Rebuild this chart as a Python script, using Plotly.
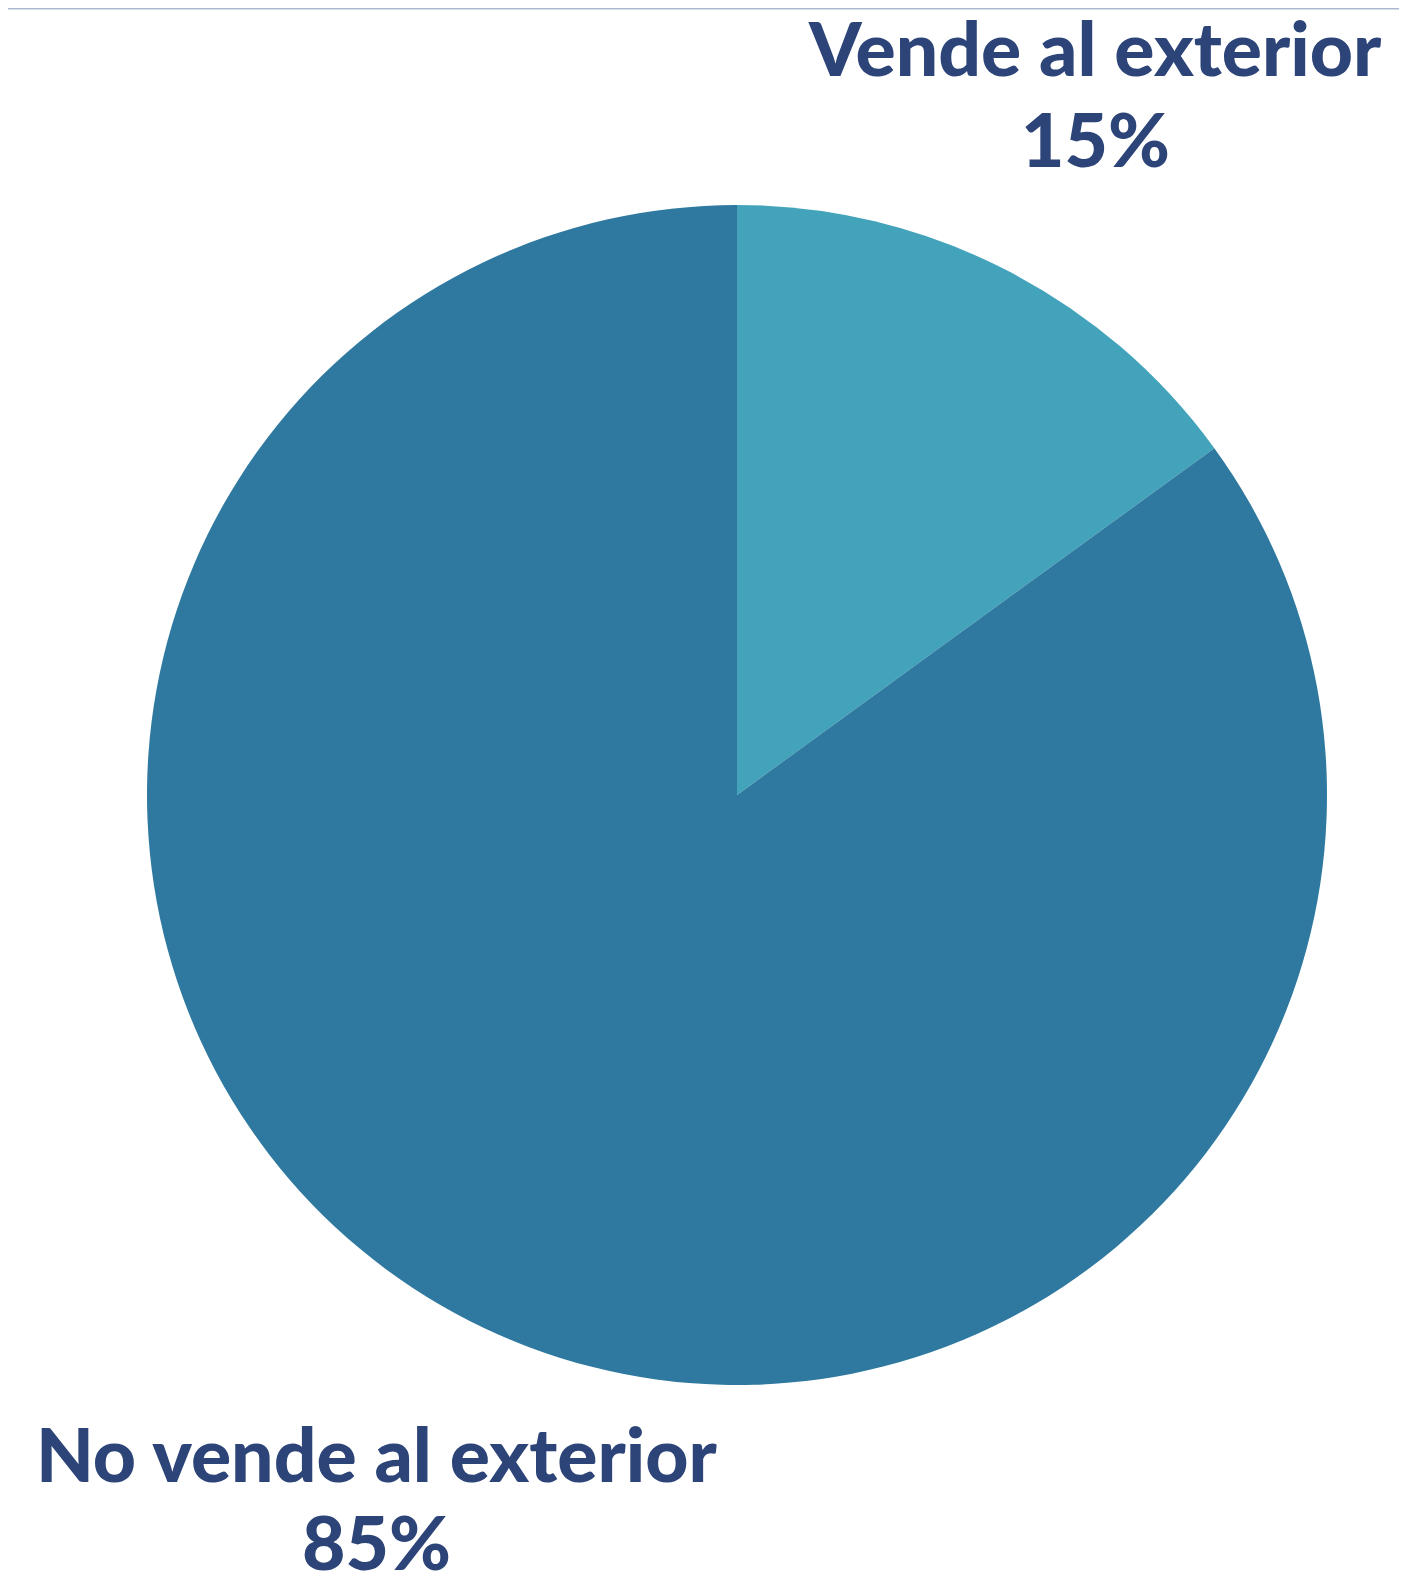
import plotly.graph_objects as go

labels = ["Vende al exterior", "No vende al exterior"]
values = [15, 85]
colors = ["#42a3bb", "#2f79a0"]

W, H = 1407, 1582
OFF = 8  # page body margin offset compensation
text_color = "#2c4478"
font_family = "Lato, 'Open Sans', sans-serif"
fsize = 75

cx_pie, top_pie, bot_pie, rad = 737 - OFF, 205 - OFF, 1385 - OFF, 590

fig = go.Figure(go.Pie(
    labels=labels,
    values=values,
    sort=False,
    direction="clockwise",
    rotation=0,
    marker=dict(colors=colors, line=dict(width=0)),
    textinfo="none",
    hoverinfo="label+percent",
    showlegend=False,
    domain=dict(x=[(cx_pie - rad) / W, (cx_pie + rad) / W],
                y=[(H - bot_pie) / H, (H - top_pie) / H]),
))

total = sum(values)
# label positions in pixels (center x, y for name line and pct line)
label_pos = [(1087, 39, 130), (368, 1445, 1533)]
annotations = []
for lab, val, (cx, y1, y2) in zip(labels, values, label_pos):
    pct = f"{round(100 * val / total)}%"
    for txt, yy in ((lab, y1), (pct, y2)):
        annotations.append(dict(
            text=txt, x=cx / W, y=1 - yy / H,
            xref="paper", yref="paper", xanchor="center", yanchor="middle",
            showarrow=False,
            font=dict(family=font_family, size=fsize, color=text_color, weight=900),
        ))

fig.update_layout(
    width=W, height=H,
    margin=dict(l=0, r=0, t=0, b=0),
    paper_bgcolor="white", plot_bgcolor="white",
    annotations=annotations,
    shapes=[dict(type="line", xref="paper", yref="paper", x0=0, x1=1, y0=1, y1=1,
                 line=dict(color="#a9b9cf", width=3))],
)

fig.write_html("out.html")
